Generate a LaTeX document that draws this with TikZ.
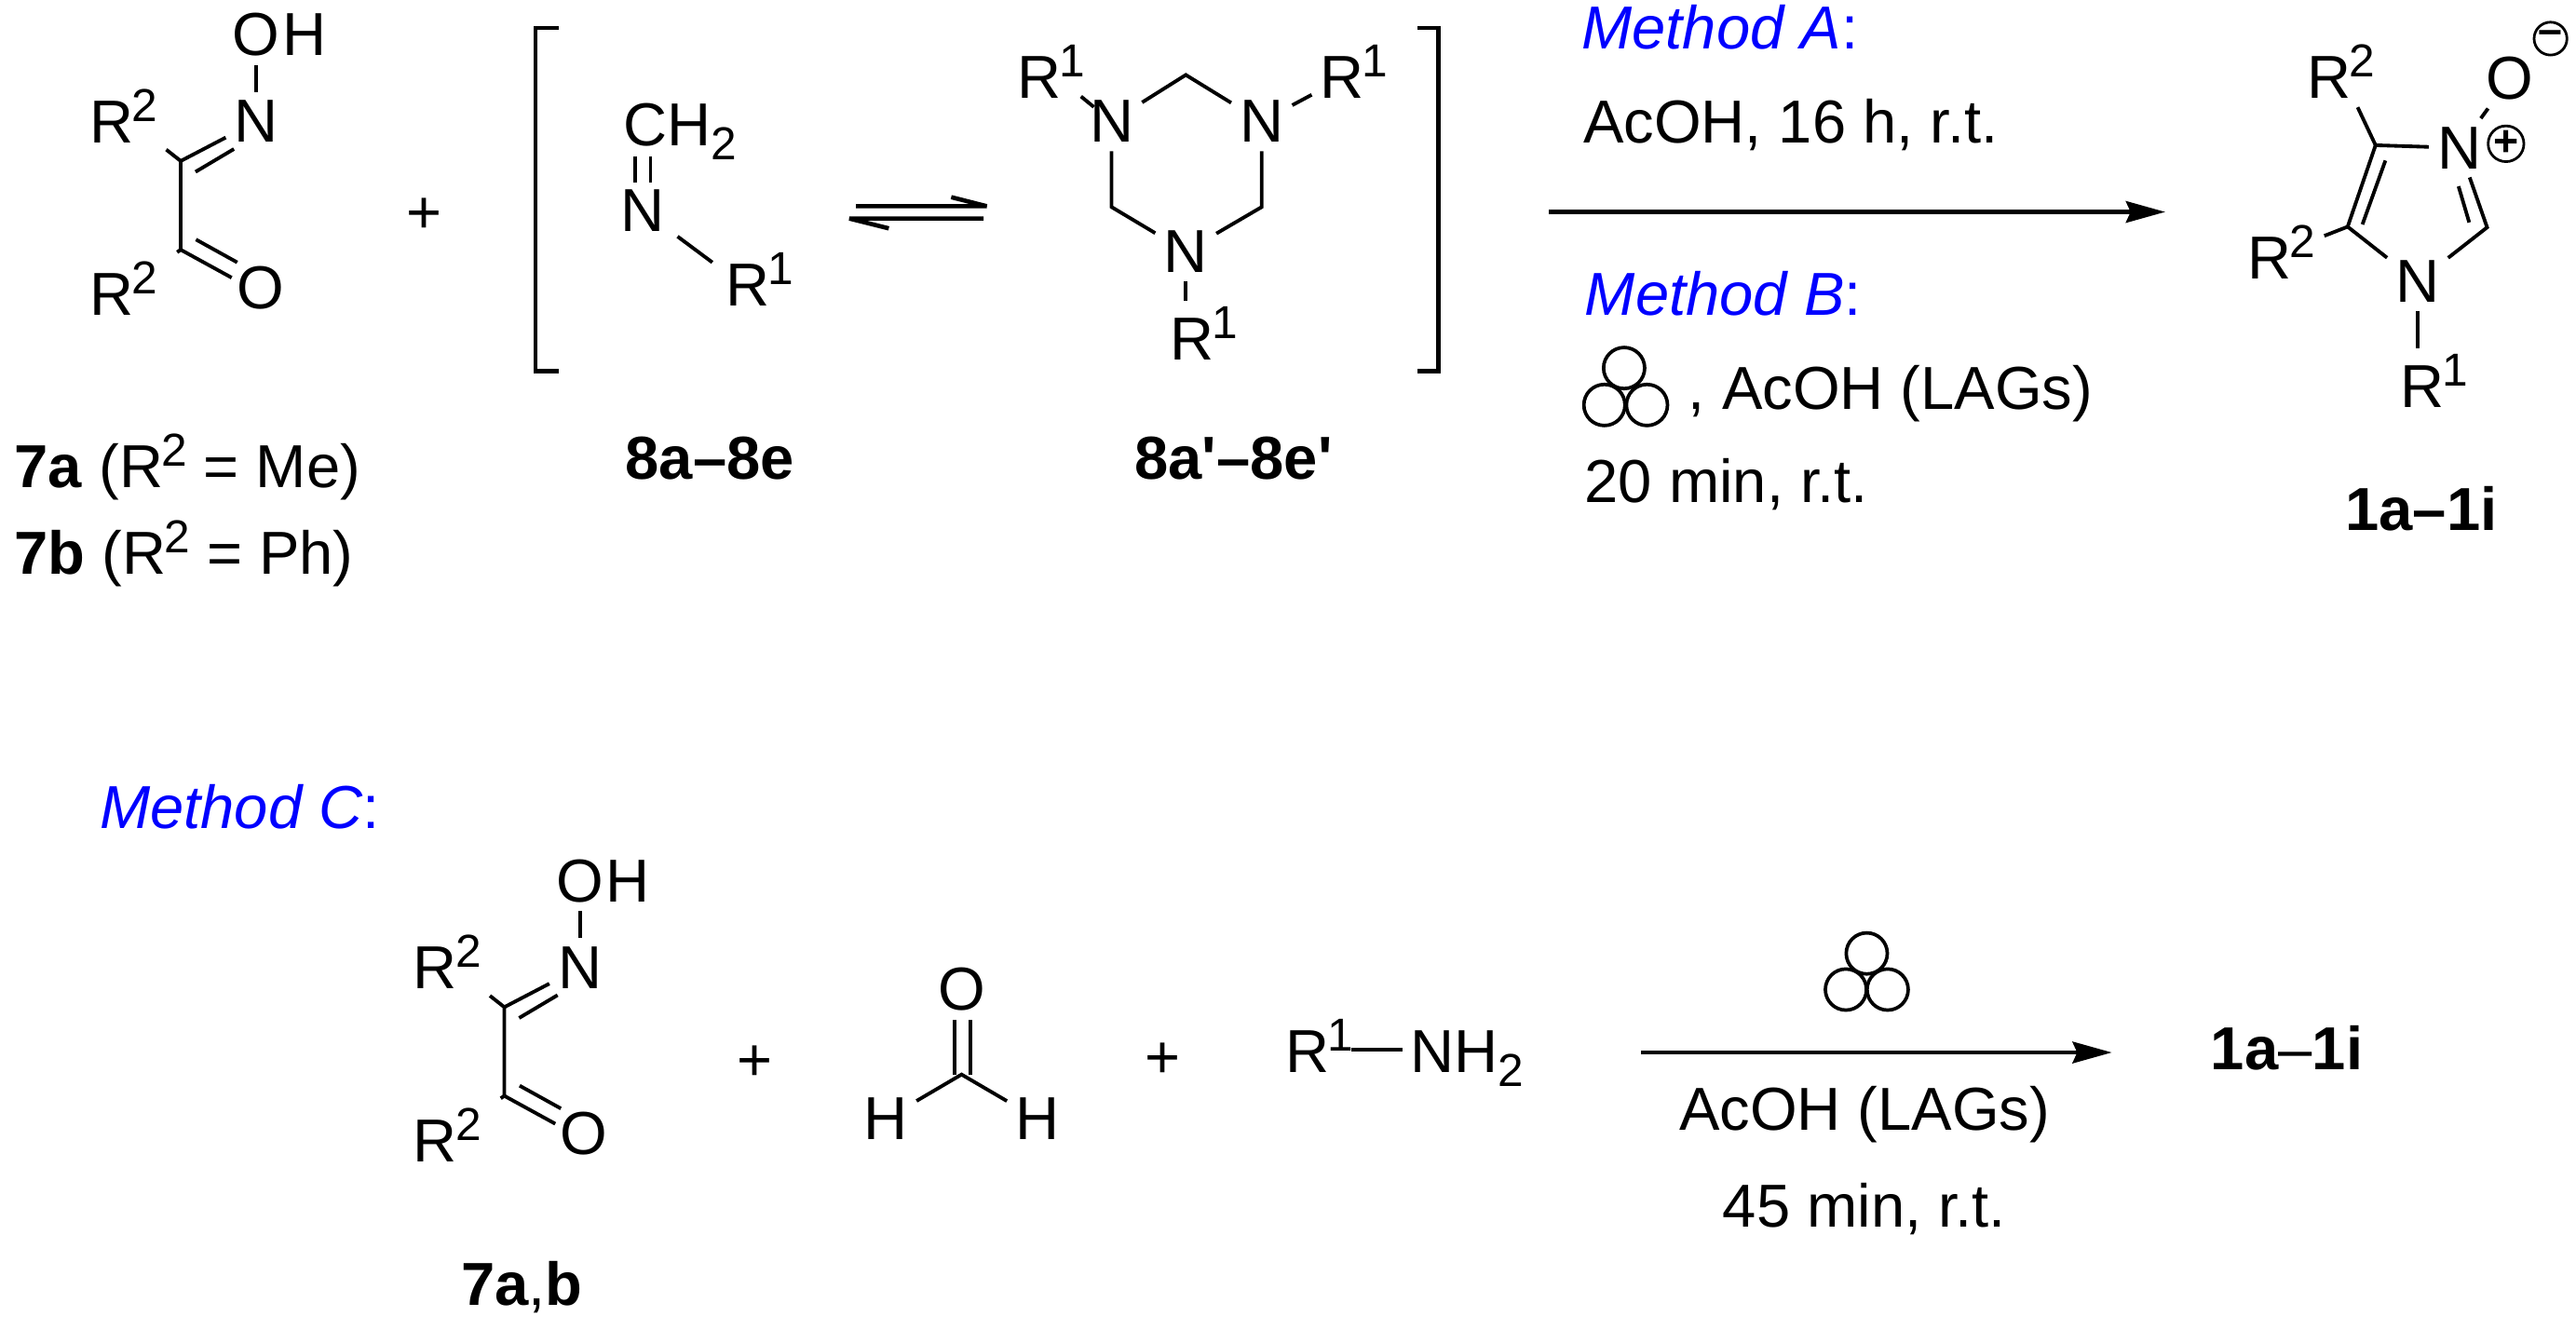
\documentclass[tikz,border=0pt]{standalone}
\usepackage{fontspec}
\setmainfont{Liberation Sans}
\usetikzlibrary{arrows.meta,positioning}
\definecolor{methodblue}{RGB}{0,0,255}
\newcommand{\chemfont}{\fontsize{10.5}{12}\selectfont}
\newcommand{\suph}[1]{\kern-0.3pt\raisebox{3.7pt}{\fontsize{8}{8}\selectfont #1}}
\newcommand{\subl}[1]{\raisebox{-2.4pt}{\fontsize{8}{8}\selectfont #1}}
\tikzset{
  every node/.style={font=\chemfont,text=black},
  atom/.style={inner sep=1.3pt},
  txt/.style={anchor=base west,inner sep=0pt},
  bond/.style={line width=0.62pt},
  plain/.style={line width=0.75pt},
  halfarrow/.style={line width=0.75pt,line join=bevel},
  react/.style={line width=0.75pt,-{Stealth[length=6.8pt,width=3.7pt,inset=0.8pt]}},
  ball/.style={line width=0.6pt},
  chg/.style={draw,circle,line width=0.45pt,inner sep=0pt,minimum size=0.2cm,font=\fontsize{7.5}{7.5}\selectfont\bfseries},
  method/.style={txt,text=methodblue,font=\chemfont\itshape},
}
\begin{document}
\begin{tikzpicture}[x=0.01cm,y=-0.01cm]
\useasboundingbox (0,0) rectangle (1568,809);

% the oxime, twice
\foreach \p/\xs/\ys in {top/0/0,low/197/515} {
\begin{scope}[shift={(\xs,\ys)}]
  \coordinate (\p-cone) at (110,98);
  \coordinate (\p-ctwo) at (110,152);
  \coordinate (\p-dbla) at (119,104.6);
  \coordinate (\p-dblb) at (142.4,90.7);
  \coordinate (\p-dblc) at (119.3,145.8);
  \coordinate (\p-dbld) at (144.4,159.7);
  \coordinate (\p-dble) at (141,169);
  \node[atom] (\p-n) at (156,74) {N};
  \node[atom,anchor=base] (\p-o) at (156,34) {O};
  \node[atom,right=-2.6pt of \p-o.base east,anchor=base west] (\p-h) {H};
  \node[atom,anchor=base west] (\p-ra) at (49.4,87) {R\suph{2}};
  \node[atom,anchor=base west] (\p-rb) at (49.4,192) {R\suph{2}};
  \node[atom] (\p-ox) at (158.5,175) {O};
  \draw[bond] (\p-n) -- (\p-o);
  \draw[bond] (\p-ra) -- (\p-cone) -- (\p-ctwo);
  \draw[bond] (\p-cone) -- (\p-n);
  \draw[bond] (\p-dbla) -- (\p-dblb);
  \draw[bond] (\p-ctwo) -- (\p-dble);
  \draw[bond] (\p-dblc) -- (\p-dbld);
  \draw[bond,shorten >=0.08cm] (\p-ctwo) -- (\p-rb);
\end{scope}
}

\node[txt] (plusa) at (247,142) {+};

% bracket with imine and triazine
\coordinate (bla) at (340,17);
\coordinate (blb) at (326,17);
\coordinate (blc) at (326,226);
\coordinate (bld) at (340,226);
\draw[plain] (bla) -- (blb) -- (blc) -- (bld);
\coordinate (bra) at (863,17);
\coordinate (brb) at (875.4,17);
\coordinate (brc) at (875.4,226);
\coordinate (brd) at (863,226);
\draw[plain] (bra) -- (brb) -- (brc) -- (brd);

\node[atom,anchor=base west,inner sep=0pt] (chtwo) at (379,89) {CH\subl{2}};
\node[atom] (nim) at (391,128) {N};
\node[atom,anchor=base west] (rim) at (436.4,186) {R\suph{1}};
\coordinate (ima) at (386.6,95);
\coordinate (imb) at (386.6,111);
\coordinate (imc) at (396,95);
\coordinate (imd) at (396,111);
\draw[bond] (ima) -- (imb);
\draw[bond] (imc) -- (imd);
\coordinate (imr) at (433.6,159.7);
\draw[bond,shorten <=1pt] (nim) -- (imr);

% equilibrium
\coordinate (eqa) at (521,125.5);
\coordinate (eqb) at (600.6,125.5);
\coordinate (eqc) at (579,120);
\coordinate (eqd) at (598.7,133);
\coordinate (eqe) at (517,133);
\coordinate (eqf) at (541,139);
\draw[halfarrow] (eqa) -- (eqb) -- (eqc);
\draw[halfarrow] (eqd) -- (eqe) -- (eqf);

% triazine
\node[atom] (nl) at (676.6,74) {N};
\node[atom] (nr) at (768,74) {N};
\node[atom] (nb) at (721.8,153) {N};
\coordinate (ctop) at (721.8,45.6);
\coordinate (cl) at (676.6,126);
\coordinate (cr) at (768,126);
\draw[bond] (nl) -- (ctop) -- (nr);
\draw[bond] (nl) -- (cl) -- (nb);
\draw[bond] (nr) -- (cr) -- (nb);
\node[atom,anchor=base west] (rl) at (614,60) {R\suph{1}};
\node[atom,anchor=base west] (rr) at (798.4,60) {R\suph{1}};
\node[atom,anchor=base west] (rb) at (707,219) {R\suph{1}};
\draw[bond] (nl) -- (rl);
\draw[bond] (nr) -- (rr);
\coordinate (rbt) at (721.8,183);
\draw[bond] (nb) -- (rbt);

% conditions
\node[method] (mtha) at (962,30) {Method A\rlap{\normalfont\chemfont:}};
\node[txt] (conda) at (963,87) {AcOH, 16 h, r.t.};
\coordinate (arra) at (943,129);
\coordinate (arrb) at (1318,129);
\draw[react] (arra) -- (arrb);
\node[method] (mthb) at (964,192) {Method B\rlap{\normalfont\chemfont:}};
\foreach \n/\x/\y in {t/988.6/224,l/976.6/246.5,r/1002.5/246.5} {
  \node[draw,circle,ball,inner sep=0pt,minimum size=0.25cm] (balla\n) at (\x,\y) {};
}
\node[txt] (condb) at (1027,249) {, AcOH (LAGs)};
\node[txt] (condc) at (964,305.6) {20 min, r.t.};

% imidazole oxide
\coordinate (cfour) at (1446,88.4);
\coordinate (cfive) at (1429,138);
\coordinate (ctwo) at (1513.9,138.4);
\node[atom] (nplus) at (1497,90) {N};
\node[atom] (none) at (1471.6,171.5) {N};
\node[atom] (oxi) at (1527.8,47.7) {O};
\node[chg] (qplus) at (1525.4,87.5) {+};
\node[chg] (qminus) at (1552.5,23.5) {\raisebox{0.3pt}{–}};
\node[atom,anchor=base west] (rfour) at (1399,60) {R\suph{2}};
\node[atom,anchor=base west] (rfive) at (1363,170) {R\suph{2}};
\node[atom,anchor=base west] (rone) at (1456,248) {R\suph{1}};
\draw[bond] (rfour) -- (cfour) -- (nplus);
\draw[bond] (nplus) -- (oxi);
\draw[bond] (cfour) -- (cfive) -- (none) -- (ctwo) -- (nplus);
\coordinate (dbla) at (1452,97.7);
\coordinate (dblb) at (1438,136.6);
\coordinate (dblc) at (1503,135.4);
\coordinate (dbld) at (1496.5,113.4);
\draw[bond] (dbla) -- (dblb);
\draw[bond] (dblc) -- (dbld);
\draw[bond] (cfive) -- (rfive);
\coordinate (ronet) at (1471.6,211.8);
\draw[bond] (none) -- (ronet);

% compound labels
\node[txt] (lbla) at (8,297) {\textbf{7a} (R\suph{2} = Me)};
\node[txt] (lblb) at (8,349.5) {\textbf{7b} (R\suph{2} = Ph)};
\node[txt] (lblc) at (380,291.7) {\textbf{8a–8e}};
\node[txt] (lbld) at (690,291.7) {\textbf{8a\textquotesingle–8e\textquotesingle}};
\node[txt] (lble) at (1427,323) {\textbf{1a–1i}};

% lower scheme
\node[method] (mthc) at (60,504) {Method C\rlap{\normalfont\chemfont:}};
\node[txt] (plusb) at (448,658) {+};
\node[txt] (plusc) at (696,656) {+};

\node[atom] (foro) at (585.3,602) {O};
\coordinate (forc) at (585.3,654);
\node[atom] (forl) at (539.3,681) {H};
\node[atom] (forr) at (631.5,681) {H};
\draw[bond] (forl) -- (forc) -- (forr);
\coordinate (fora) at (581,620.8);
\coordinate (forb) at (581,654);
\coordinate (forp) at (590.5,620.8);
\coordinate (forq) at (590.5,654);
\draw[bond] (fora) -- (forb);
\draw[bond] (forp) -- (forq);

\node[atom,anchor=base west,inner sep=0pt] (amr) at (782,653) {R\suph{1}};
\node[atom,anchor=base west,inner sep=0pt] (amn) at (858,653) {NH\subl{2}};
\coordinate (ama) at (822.6,638.7);
\coordinate (amb) at (853.8,638.7);
\draw[bond] (ama) -- (amb);

\foreach \n/\x/\y in {t/1136.3/580.3,l/1123.6/602.3,r/1149/602.3} {
  \node[draw,circle,ball,inner sep=0pt,minimum size=0.25cm] (ballb\n) at (\x,\y) {};
}
\coordinate (arrc) at (999,640.6);
\coordinate (arrd) at (1285.5,640.6);
\draw[react] (arrc) -- (arrd);
\node[txt] (condd) at (1021.5,688) {AcOH (LAGs)};
\node[txt] (conde) at (1048,747) {45 min, r.t.};
\node[txt] (lblf) at (1345,651) {\textbf{1a}–\textbf{1i}};
\node[txt] (lblg) at (280,794.7) {\textbf{7a},\textbf{b}};
\end{tikzpicture}
\end{document}
